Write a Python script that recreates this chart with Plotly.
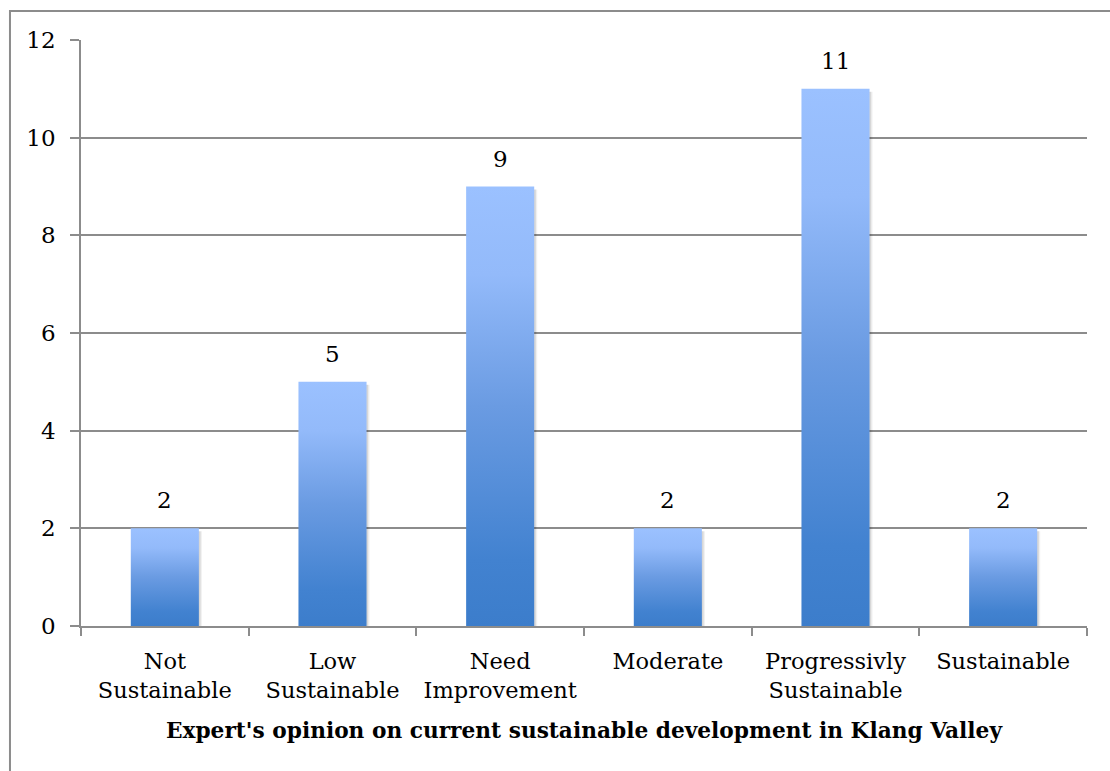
import plotly.graph_objects as go

# Survey results: number of experts per rating
categories = ["Not<br>Sustainable", "Low<br>Sustainable", "Need<br>Improvement",
              "Moderate", "Progressivly<br>Sustainable", "Sustainable"]
counts = [2, 5, 9, 2, 11, 2]
y_ticks = [0, 2, 4, 6, 8, 10, 12]
x_title = "Expert's opinion on current sustainable development in Klang Valley"

FONT = "DejaVu Serif"
GRID = "#8c8c8c"
HALF = 0.203  # half bar width in category units

# Excel-style vertical gradient: dark at the base, light at the top
bar_scale = [[0.0, "#3c7dcb"], [0.15, "#4282d0"], [0.5, "#6a9be2"],
             [0.8, "#93bafa"], [1.0, "#9bc1ff"]]

fig = go.Figure()

# soft drop shadow behind each bar
for i, v in enumerate(counts):
    for off, alpha in [(0.018, 0.06), (0.010, 0.10)]:
        fig.add_trace(go.Scatter(
            x=[i - HALF + off, i + HALF + off, i + HALF + off, i - HALF + off, i - HALF + off],
            y=[-0.06, -0.06, v - 0.06, v - 0.06, -0.06],
            mode="lines", fill="toself", line=dict(width=0),
            fillcolor=f"rgba(0,0,0,{alpha})", hoverinfo="skip", showlegend=False))

# bars as filled rectangles with vertical gradient
for i, v in enumerate(counts):
    fig.add_trace(go.Scatter(
        x=[i - HALF, i + HALF, i + HALF, i - HALF, i - HALF],
        y=[0, 0, v, v, 0],
        mode="lines", fill="toself", line=dict(width=0),
        fillgradient=dict(type="vertical", colorscale=bar_scale, start=0, stop=v),
        hoverinfo="skip", showlegend=False))

# value labels above bars
value_labels = [dict(x=i, y=v, text=str(v), xref="x", yref="y",
                     xanchor="center", yanchor="middle", yshift=28, showarrow=False,
                     font=dict(family=FONT, size=23, color="#000"))
                for i, v in enumerate(counts)]

n = len(categories)
fig.update_layout(
    width=1110, height=771,
    margin=dict(l=81, r=23, t=40, b=145),
    paper_bgcolor="white", plot_bgcolor="white",
    font=dict(family=FONT, size=22.5, color="#000"),
    xaxis=dict(
        range=[-0.5, n - 0.5], tickmode="array",
        tickvals=list(range(n)), ticktext=categories,
        ticks="", showgrid=False, zeroline=False,
        showline=True, linecolor=GRID, linewidth=1.5,
        ticklabelstandoff=14,
        tickfont=dict(family=FONT, size=22.5),
        minor=dict(tickmode="array", tickvals=[k - 0.5 for k in range(n + 1)],
                   ticks="outside", ticklen=8, tickcolor=GRID, tickwidth=1.5,
                   showgrid=False),
    ),
    yaxis=dict(
        range=[0, 12], tickmode="array", tickvals=y_ticks,
        ticks="outside", ticklen=9, tickcolor=GRID, tickwidth=1.5,
        showgrid=True, gridcolor=GRID, gridwidth=1.5,
        showline=True, linecolor=GRID, linewidth=1.5,
        zeroline=False, ticklabelstandoff=10,
        tickfont=dict(family=FONT, size=23),
    ),
    annotations=value_labels + [dict(
        text=f"<b>{x_title}</b>", xref="paper", yref="paper",
        x=0.5, y=-0.179, xanchor="center", yanchor="middle",
        showarrow=False, font=dict(family=FONT, size=21.7, color="#000"))],
    shapes=[dict(
        type="rect", xref="paper", yref="paper",
        x0=-0.0706, x1=1.2, y0=-0.5, y1=1.0495,
        line=dict(color="#8c8c8c", width=2), layer="below")],
)

fig.write_html("out.html")
